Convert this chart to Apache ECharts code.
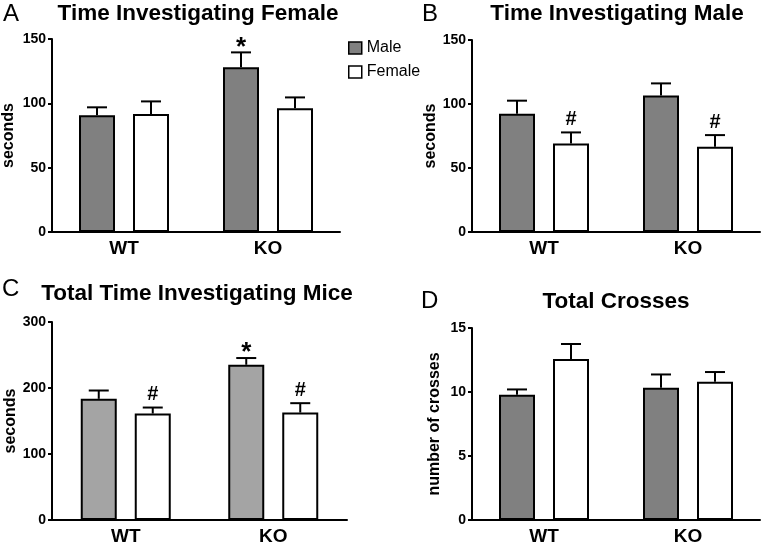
<!DOCTYPE html>
<html>
<head>
<meta charset="utf-8">
<script src="https://cdn.jsdelivr.net/npm/echarts@6/dist/echarts.min.js"></script>
<style>
  html, body { margin: 0; padding: 0; background: #fff; }
  #chart { width: 762px; height: 546px; }
</style>
</head>
<body>
<div id="chart"></div>
<script>
var categories = ['WT', 'KO'];

// A: time investigating female (seconds), mean and SEM
var femaleMale = [90.7, 128.0];
var femaleMaleErr = [6.2, 11.6];
var femaleFemale = [91.7, 96.1];
var femaleFemaleErr = [9.8, 8.5];

// B: time investigating male
var maleMale = [92.4, 106.7];
var maleMaleErr = [10.2, 9.4];
var maleFemale = [69.1, 66.6];
var maleFemaleErr = [8.7, 9.1];

// C: total time investigating mice
var totalMale = [183.6, 235.2];
var totalMaleErr = [12.6, 10.2];
var totalFemale = [161.3, 162.8];
var totalFemaleErr = [9.1, 14.2];

// D: total crosses
var crossMale = [9.78, 10.33];
var crossMaleErr = [0.42, 1.04];
var crossFemale = [12.57, 10.8];
var crossFemaleErr = [1.18, 0.76];

// significance marks above bars
var marksA = { male: ['', '*'], female: ['', ''] };
var marksB = { male: ['', ''], female: ['#', '#'] };
var marksC = { male: ['', '*'], female: ['#', '#'] };
var marksD = { male: ['', ''], female: ['', ''] };

var FONT = '"Liberation Sans", Arial, Helvetica, sans-serif';
var BAR_W = 36;
var OFFSET = 27;

var chart = echarts.init(document.getElementById('chart'));

var grids = [
    {left: 52, top: 39, width: 288, height: 193},
    {left: 472, top: 40, width: 288, height: 192},
    {left: 52, top: 322, width: 295, height: 198},
    {left: 472, top: 328, width: 288, height: 192}
];

var yConf = [
    {max: 150, interval: 50, name: 'seconds', gap: 35},
    {max: 150, interval: 50, name: 'seconds', gap: 29},
    {max: 300, interval: 100, name: 'seconds', gap: 31},
    {max: 15, interval: 5, name: 'number of crosses', gap: 29}
];

var xAxes = [], yAxes = [], series = [];

grids.forEach(function (g, i) {
    g.outerBoundsMode = 'none';
    xAxes.push({
        type: 'category', gridIndex: i, data: categories,
        axisLine: {lineStyle: {color: '#000', width: 2}},
        axisTick: {alignWithLabel: true, length: 5, lineStyle: {color: '#000', width: 2}},
        axisLabel: {color: '#000', fontWeight: 'bold', fontSize: 19, fontFamily: FONT, margin: 7}
    });
    yAxes.push({
        type: 'value', gridIndex: i, min: 0, max: yConf[i].max, interval: yConf[i].interval,
        name: yConf[i].name, nameLocation: 'middle', nameGap: yConf[i].gap,
        nameTextStyle: {color: '#000', fontWeight: 'bold', fontSize: 16, fontFamily: FONT},
        axisLine: {show: true, lineStyle: {color: '#000', width: 2}},
        axisTick: {show: true, length: 4, lineStyle: {color: '#000', width: 2}},
        axisLabel: {color: '#000', fontWeight: 'bold', fontSize: 14, fontFamily: FONT, margin: 6},
        splitLine: {show: false}
    });
});

function errSeries(idx, means, errs, marks, offset) {
    var data = means.map(function (m, k) {
        return [k, m, m + errs[k]];
    });
    return {
        type: 'custom', xAxisIndex: idx, yAxisIndex: idx, silent: true, z: 3,
        data: data,
        renderItem: function (params, api) {
            var base = api.coord([api.value(0), api.value(1)]);
            var top = api.coord([api.value(0), api.value(2)]);
            var x = base[0] + offset;
            var children = [
                {type: 'line', shape: {x1: x, y1: base[1], x2: x, y2: top[1]},
                    style: {stroke: '#000', lineWidth: 2}},
                {type: 'line', shape: {x1: x - 10, y1: top[1], x2: x + 10, y2: top[1]},
                    style: {stroke: '#000', lineWidth: 2}}
            ];
            var mk = marks[params.dataIndex];
            if (mk) {
                var star = mk === '*';
                children.push({
                    type: 'text',
                    style: {
                        text: mk, x: x, y: top[1] + (star ? -5 : -13),
                        align: 'center', verticalAlign: 'middle',
                        font: 'bold ' + (star ? 26 : 20) + 'px ' + FONT, fill: '#000'
                    }
                });
            }
            return {type: 'group', children: children};
        }
    };
}

function addPanel(idx, male, maleErr, female, femaleErr, marks, maleColor) {
    series.push({
        name: 'Male', type: 'bar', xAxisIndex: idx, yAxisIndex: idx,
        data: male, barWidth: BAR_W, barGap: '50%',
        itemStyle: {color: maleColor, borderColor: '#000', borderWidth: 2}
    });
    series.push({
        name: 'Female', type: 'bar', xAxisIndex: idx, yAxisIndex: idx,
        data: female, barWidth: BAR_W, barGap: '50%',
        itemStyle: {color: '#fff', borderColor: '#000', borderWidth: 2}
    });
    series.push(errSeries(idx, male, maleErr, marks.male, -OFFSET));
    series.push(errSeries(idx, female, femaleErr, marks.female, OFFSET));
}

addPanel(0, femaleMale, femaleMaleErr, femaleFemale, femaleFemaleErr, marksA, '#808080');
addPanel(1, maleMale, maleMaleErr, maleFemale, maleFemaleErr, marksB, '#808080');
addPanel(2, totalMale, totalMaleErr, totalFemale, totalFemaleErr, marksC, '#a4a4a4');
addPanel(3, crossMale, crossMaleErr, crossFemale, crossFemaleErr, marksD, '#808080');

function title(text, left, top, align, size, weight) {
    return {
        text: text, left: left, top: top, textAlign: align, padding: 0,
        textStyle: {color: '#000', fontSize: size, fontWeight: weight, fontFamily: FONT}
    };
}

var option = {
    animation: false,
    backgroundColor: '#fff',
    title: [
        title('A', 3, 2, 'left', 24, 'normal'),
        title('B', 422, 2, 'left', 24, 'normal'),
        title('C', 2, 277, 'left', 24, 'normal'),
        title('D', 421, 289, 'left', 24, 'normal'),
        title('Time Investigating Female', 198, 2, 'center', 22.5, 'bold'),
        title('Time Investigating Male', 617, 2, 'center', 22.5, 'bold'),
        title('Total Time Investigating Mice', 197, 282, 'center', 22.5, 'bold'),
        title('Total Crosses', 616, 290, 'center', 22.5, 'bold')
    ],
    legend: {
        orient: 'vertical', left: 348, top: 40, padding: 0,
        itemWidth: 13, itemHeight: 12, itemGap: 8, icon: 'rect',
        textStyle: {color: '#000', fontSize: 16, fontFamily: FONT},
        data: [
            {name: 'Male', itemStyle: {color: '#808080', borderColor: '#000', borderWidth: 1.5}},
            {name: 'Female', itemStyle: {color: '#fff', borderColor: '#000', borderWidth: 1.5}}
        ],
        selectedMode: false
    },
    grid: grids,
    xAxis: xAxes,
    yAxis: yAxes,
    series: series
};

chart.setOption(option);
</script>
</body>
</html>
